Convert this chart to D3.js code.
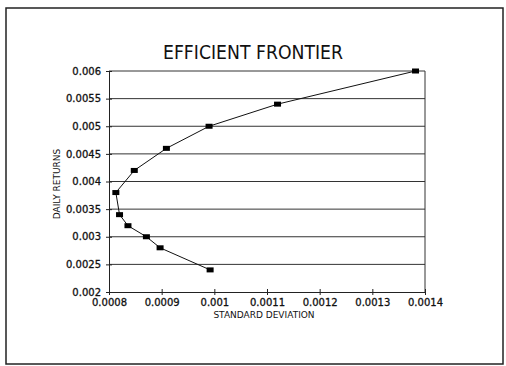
<!DOCTYPE html>
<html>
<head>
<style>
  body { margin: 0; background: #fff; }
  svg { display: block; }
</style>
</head>
<body>
<svg></svg>
<script src="https://cdnjs.cloudflare.com/ajax/libs/d3/7.8.5/d3.min.js"></script>
<script>
// frontier points
var stdDev = [0.000813, 0.000820, 0.000836, 0.000871, 0.000897, 0.000992,
              0.000848, 0.000909, 0.000990, 0.001120, 0.001382];
var returns = [0.0038, 0.0034, 0.0032, 0.0030, 0.0028, 0.0024,
               0.0042, 0.0046, 0.0050, 0.0054, 0.0060];
// drawing order along the curve (bottom end up to the top end)
var order = [5, 4, 3, 2, 1, 0, 6, 7, 8, 9, 10];

var xTicks = [0.0008, 0.0009, 0.001, 0.0011, 0.0012, 0.0013, 0.0014];
var xTickLabels = ["0.0008", "0.0009", "0.001", "0.0011", "0.0012", "0.0013", "0.0014"];
var yTicks = [0.002, 0.0025, 0.003, 0.0035, 0.004, 0.0045, 0.005, 0.0055, 0.006];
var yTickLabels = ["0.002", "0.0025", "0.003", "0.0035", "0.004", "0.0045", "0.005", "0.0055", "0.006"];

var W = 506, H = 366;
var plotL = 109, plotR = 425, plotT = 71, plotB = 292;

var svg = d3.select("svg").attr("width", W).attr("height", H);

// outer frame
svg.append("rect")
  .attr("x", 6).attr("y", 8)
  .attr("width", 497).attr("height", 356)
  .attr("fill", "none").attr("stroke", "#222").attr("stroke-width", 1.5);

var x = d3.scaleLinear().domain([0.0008, 0.0014]).range([plotL, plotR]);
var y = d3.scaleLinear().domain([0.002, 0.006]).range([plotB, plotT]);

// title
svg.append("text")
  .attr("x", 253).attr("y", 59)
  .attr("text-anchor", "middle")
  .attr("font-family", "DejaVu Sans")
  .attr("font-size", 19)
  .attr("textLength", 180)
  .attr("lengthAdjust", "spacingAndGlyphs")
  .attr("fill", "#111")
  .text("EFFICIENT FRONTIER");

// horizontal grid lines
svg.append("g").selectAll("line")
  .data(yTicks.slice(1)).enter().append("line")
  .attr("x1", plotL).attr("x2", plotR)
  .attr("y1", function(d) { return y(d); })
  .attr("y2", function(d) { return y(d); })
  .attr("stroke", "#333").attr("stroke-width", 1);

// right border of the plot
svg.append("line")
  .attr("x1", plotR).attr("x2", plotR)
  .attr("y1", plotT).attr("y2", plotB)
  .attr("stroke", "#333").attr("stroke-width", 1);

// x axis
var xAxis = svg.append("g")
  .attr("transform", "translate(0," + plotB + ")")
  .call(d3.axisBottom(x).tickValues(xTicks)
    .tickFormat(function(d, i) { return xTickLabels[i]; })
    .tickSize(3).tickSizeOuter(0).tickPadding(4));
xAxis.selectAll(".tick line").attr("y1", -3).attr("stroke", "#222");
xAxis.select(".domain").attr("stroke", "#222");
xAxis.selectAll("text")
  .attr("font-family", "DejaVu Sans").attr("font-size", 10).attr("fill", "#111")
  .attr("stroke", "#111").attr("stroke-width", 0.3);

// y axis
var yAxis = svg.append("g")
  .attr("transform", "translate(" + plotL + ",0)")
  .call(d3.axisLeft(y).tickValues(yTicks)
    .tickFormat(function(d, i) { return yTickLabels[i]; })
    .tickSize(3).tickSizeOuter(0).tickPadding(5));
yAxis.selectAll(".tick line").attr("x1", 3).attr("x2", -3).attr("stroke", "#222");
yAxis.select(".domain").attr("stroke", "#222");
yAxis.selectAll("text")
  .attr("font-family", "DejaVu Sans").attr("font-size", 10).attr("fill", "#111")
  .attr("stroke", "#111").attr("stroke-width", 0.3);

// axis titles
svg.append("text")
  .attr("x", 264).attr("y", 318)
  .attr("text-anchor", "middle")
  .attr("font-family", "DejaVu Sans").attr("font-size", 9)
  .attr("fill", "#111")
  .text("STANDARD DEVIATION");

svg.append("text")
  .attr("transform", "translate(60,184) rotate(-90)")
  .attr("text-anchor", "middle")
  .attr("font-family", "DejaVu Sans").attr("font-size", 9)
  .attr("fill", "#111")
  .text("DAILY RETURNS");

// the frontier line
var pts = order.map(function(i) { return [stdDev[i], returns[i]]; });
var line = d3.line()
  .x(function(d) { return x(d[0]); })
  .y(function(d) { return y(d[1]); });

svg.append("path")
  .datum(pts)
  .attr("d", line)
  .attr("fill", "none")
  .attr("stroke", "#111")
  .attr("stroke-width", 1);

// square markers
svg.append("g").selectAll("rect")
  .data(pts).enter().append("rect")
  .attr("x", function(d) { return x(d[0]) - 3.5; })
  .attr("y", function(d) { return y(d[1]) - 2.5; })
  .attr("width", 7).attr("height", 5)
  .attr("fill", "#000");
</script>
</body>
</html>
